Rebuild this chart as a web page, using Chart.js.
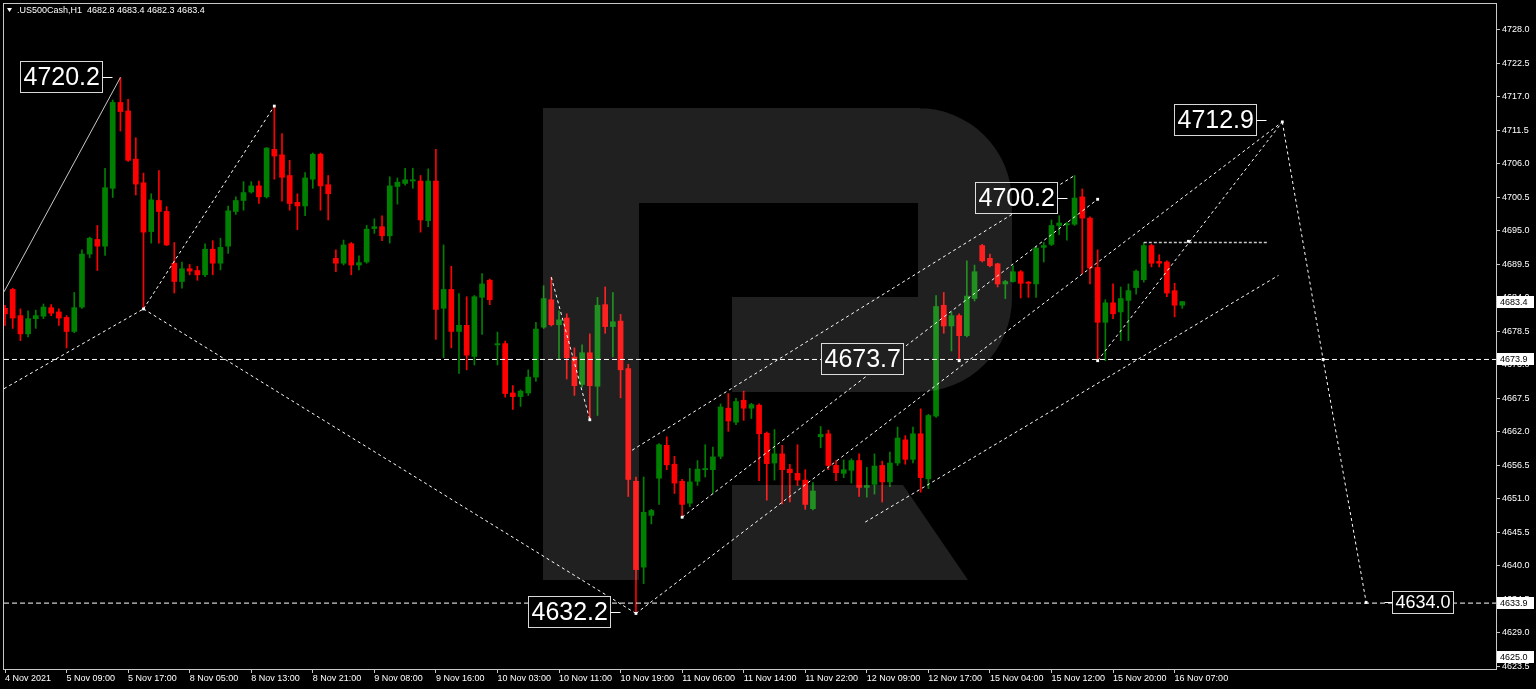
<!DOCTYPE html>
<html>
<head>
<meta charset="utf-8">
<title>.US500Cash,H1</title>
<script src="https://cdn.jsdelivr.net/npm/chart.js@4.4.1/dist/chart.umd.min.js"></script>
<style>
  html, body { margin: 0; padding: 0; background: #000; overflow: hidden; }
</style>
</head>
<body>
<canvas id="chart" width="1536" height="689"></canvas>
<script>
// Header info
const symbolName = ".US500Cash,H1";
const lastBar = ["4682.8", "4683.4", "4682.3", "4683.4"];

// H1 candles (bar 0 = 4 Nov 2021)
const opens = [
  4682.3, 4685.4, 4681.1, 4678.1, 4680.6, 4681.0, 4682.4, 4681.7, 4680.8, 4678.5,
  4682.5, 4691.2, 4693.6, 4692.5, 4702.0, 4716.1, 4714.7, 4706.8, 4702.9, 4694.9,
  4700.0, 4698.2, 4689.7, 4686.7, 4688.8, 4688.5, 4687.8, 4692.0, 4689.7, 4692.5,
  4698.2, 4700.0, 4701.4, 4702.4, 4700.6, 4708.4, 4707.5, 4704.1, 4699.7, 4699.1,
  4703.5, 4707.6, 4702.6, 4690.5, 4689.7, 4692.9, 4689.4, 4689.9, 4695.4, 4695.7,
  4694.2, 4702.3, 4702.8, 4703.2, 4703.2, 4696.7, 4703.2, 4682.3, 4685.4, 4678.5,
  4679.5, 4674.4, 4684.1, 4686.9, 4676.3, 4676.5, 4668.4, 4667.8, 4668.4, 4671.0,
  4679.2, 4683.7, 4679.6, 4680.7, 4674.3, 4669.8, 4675.0, 4669.5, 4682.9, 4679.3,
  4680.2, 4672.4, 4653.9, 4639.8, 4648.3, 4654.4, 4659.8, 4656.7, 4653.9, 4650.3,
  4653.9, 4655.8, 4655.8, 4658.0, 4665.9, 4663.6, 4667.2, 4665.9, 4666.4, 4661.8,
  4656.9, 4658.4, 4655.9, 4655.2, 4654.1, 4649.4, 4661.2, 4661.7, 4656.5, 4655.2,
  4655.7, 4657.3, 4652.9, 4653.4, 4656.5, 4653.8, 4656.9, 4660.7, 4657.5, 4661.7,
  4654.3, 4664.6, 4682.8, 4679.4, 4681.1, 4677.8, 4683.9, 4692.6, 4690.5, 4689.6,
  4686.3, 4686.7, 4688.3, 4686.6, 4686.3, 4692.3, 4692.8, 4695.9, 4696.0, 4696.1,
  4700.6, 4697.1, 4689.0, 4680.0, 4683.2, 4681.7, 4683.6, 4685.7, 4687.0, 4692.6,
  4690.0, 4689.9, 4685.2, 4682.8
];
const highs = [
  4682.8, 4685.6, 4682.2, 4681.9, 4682.0, 4683.0, 4682.9, 4682.2, 4681.1, 4684.9,
  4691.9, 4694.0, 4695.9, 4705.3, 4716.5, 4720.2, 4716.6, 4710.3, 4704.5, 4701.1,
  4704.9, 4699.0, 4693.1, 4689.9, 4689.5, 4689.2, 4692.9, 4693.4, 4693.8, 4699.1,
  4700.6, 4703.1, 4703.1, 4703.2, 4708.7, 4715.5, 4711.0, 4706.6, 4701.1, 4704.6,
  4707.8, 4707.8, 4704.1, 4691.9, 4693.5, 4693.1, 4690.9, 4695.9, 4697.0, 4697.5,
  4703.9, 4703.7, 4705.3, 4705.3, 4704.1, 4705.2, 4708.4, 4692.7, 4689.2, 4684.7,
  4684.2, 4684.4, 4688.0, 4687.1, 4678.4, 4676.9, 4669.6, 4668.9, 4672.2, 4680.0,
  4686.0, 4687.4, 4681.9, 4681.4, 4675.8, 4676.3, 4678.1, 4684.1, 4685.8, 4684.9,
  4681.3, 4673.1, 4654.6, 4654.6, 4649.3, 4660.1, 4661.2, 4658.0, 4654.2, 4656.0,
  4657.3, 4659.9, 4659.5, 4666.6, 4668.3, 4667.5, 4668.7, 4666.7, 4666.6, 4662.0,
  4662.4, 4659.8, 4656.7, 4659.9, 4655.8, 4653.7, 4662.9, 4662.3, 4657.3, 4657.4,
  4657.6, 4658.4, 4656.2, 4658.4, 4657.2, 4658.7, 4662.8, 4661.4, 4662.8, 4665.8,
  4664.9, 4684.4, 4684.9, 4681.7, 4681.4, 4690.1, 4689.4, 4692.8, 4691.2, 4689.7,
  4686.9, 4689.3, 4688.5, 4686.7, 4692.4, 4693.1, 4696.8, 4697.5, 4696.4, 4704.1,
  4701.9, 4697.3, 4691.9, 4683.7, 4686.3, 4685.8, 4686.3, 4688.6, 4693.1, 4692.8,
  4691.1, 4690.1, 4686.4, 4683.4
];
const lows = [
  4679.5, 4679.0, 4677.0, 4677.6, 4679.0, 4680.6, 4681.1, 4679.5, 4675.8, 4678.3,
  4682.3, 4690.6, 4688.5, 4691.0, 4700.5, 4711.4, 4706.4, 4700.9, 4682.2, 4693.0,
  4693.0, 4692.6, 4684.8, 4685.6, 4687.8, 4686.9, 4687.5, 4687.8, 4688.6, 4691.3,
  4697.7, 4698.4, 4701.2, 4699.5, 4700.4, 4703.5, 4699.9, 4698.4, 4695.2, 4697.5,
  4702.0, 4698.4, 4696.8, 4688.3, 4689.4, 4687.8, 4688.6, 4689.7, 4694.6, 4693.4,
  4693.0, 4699.4, 4702.5, 4702.0, 4694.8, 4695.7, 4677.2, 4674.2, 4675.8, 4671.6,
  4672.2, 4673.0, 4678.0, 4682.9, 4673.0, 4667.7, 4665.7, 4666.2, 4668.0, 4670.3,
  4679.0, 4679.4, 4674.0, 4670.7, 4668.0, 4669.4, 4664.0, 4664.7, 4678.2, 4674.3,
  4667.6, 4651.4, 4632.2, 4637.1, 4646.9, 4650.1, 4655.8, 4651.9, 4648.0, 4649.7,
  4653.2, 4654.6, 4651.9, 4657.6, 4662.1, 4663.2, 4663.9, 4664.2, 4654.0, 4650.8,
  4654.1, 4650.2, 4650.5, 4653.2, 4649.3, 4649.2, 4659.4, 4655.8, 4654.0, 4654.5,
  4653.6, 4651.4, 4651.3, 4651.8, 4650.5, 4653.0, 4656.5, 4656.7, 4656.9, 4652.1,
  4652.7, 4664.4, 4678.2, 4675.3, 4673.7, 4677.6, 4683.5, 4689.9, 4689.1, 4685.8,
  4683.9, 4686.6, 4684.0, 4684.1, 4684.1, 4689.9, 4692.6, 4694.4, 4693.5, 4695.9,
  4688.0, 4686.3, 4673.7, 4673.7, 4680.6, 4677.0, 4677.0, 4684.6, 4686.6, 4689.1,
  4689.1, 4684.2, 4680.9, 4682.3
];
const closes = [
  4681.4, 4680.7, 4678.1, 4680.6, 4681.1, 4682.5, 4681.5, 4680.7, 4678.5, 4682.4,
  4691.2, 4693.8, 4692.5, 4702.1, 4716.1, 4714.6, 4706.6, 4702.7, 4694.8, 4700.1,
  4698.2, 4692.7, 4686.7, 4688.8, 4688.4, 4687.8, 4692.0, 4689.7, 4692.3, 4698.3,
  4700.0, 4701.3, 4702.4, 4700.6, 4708.6, 4707.3, 4703.8, 4699.5, 4699.1, 4703.7,
  4707.6, 4702.4, 4701.1, 4689.7, 4692.7, 4689.4, 4689.8, 4695.3, 4695.7, 4694.2,
  4702.4, 4703.0, 4703.4, 4703.4, 4696.8, 4703.2, 4682.1, 4685.4, 4678.5, 4679.5,
  4674.6, 4684.2, 4686.3, 4683.7, 4676.5, 4668.3, 4667.8, 4668.7, 4671.0, 4678.9,
  4683.9, 4679.6, 4680.4, 4674.2, 4669.6, 4675.0, 4669.6, 4682.8, 4679.3, 4680.1,
  4672.2, 4654.2, 4639.4, 4648.8, 4649.1, 4659.9, 4656.6, 4653.6, 4650.1, 4653.8,
  4655.9, 4656.0, 4657.9, 4666.1, 4663.8, 4667.0, 4665.9, 4666.5, 4661.7, 4656.8,
  4658.4, 4655.8, 4655.3, 4654.1, 4650.1, 4652.3, 4661.6, 4656.5, 4655.3, 4655.8,
  4657.3, 4652.9, 4653.2, 4656.4, 4653.8, 4656.9, 4661.0, 4657.5, 4661.7, 4654.5,
  4664.7, 4682.6, 4679.4, 4681.1, 4677.8, 4684.3, 4688.3, 4690.1, 4689.3, 4686.3,
  4686.7, 4688.3, 4686.4, 4686.4, 4692.2, 4692.6, 4695.9, 4696.3, 4696.2, 4700.4,
  4697.1, 4688.9, 4680.0, 4683.2, 4681.4, 4683.9, 4685.2, 4688.4, 4692.6, 4689.7,
  4689.7, 4684.8, 4682.8, 4683.4
];

// Axis ticks
const xTickIndex = [0, 8, 16, 24, 32, 40, 48, 56, 64, 72, 80, 88, 96, 104, 112, 120, 128, 136, 144, 152];
const xTickLabels = [
  "4 Nov 2021", "5 Nov 09:00", "5 Nov 17:00", "8 Nov 05:00", "8 Nov 13:00",
  "8 Nov 21:00", "9 Nov 08:00", "9 Nov 16:00", "10 Nov 03:00", "10 Nov 11:00",
  "10 Nov 19:00", "11 Nov 06:00", "11 Nov 14:00", "11 Nov 22:00", "12 Nov 09:00",
  "12 Nov 17:00", "15 Nov 04:00", "15 Nov 12:00", "15 Nov 20:00", "16 Nov 07:00"
];
const yTickValues = [
  4728.0, 4722.5, 4717.0, 4711.5, 4706.0, 4700.5, 4695.0, 4689.5, 4684.0, 4678.5,
  4673.0, 4667.5, 4662.0, 4656.5, 4651.0, 4645.5, 4640.0, 4634.5, 4629.0, 4623.5
];
const axisPriceMarks = [4683.4, 4673.9, 4633.9, 4625.0];

// Visible range (bar index / price)
const xMin = -0.13, xMax = 193.77;
const yMin = 4623.08, yMax = 4732.26;

// Analyst drawings: [bar index, price]
const solidWave = [[xMin, 4685.0], [15, 4720.2]];
const dottedWaves = [
  [[xMin, 4669.1], [18, 4682.2]],
  [[18, 4682.2], [35, 4715.5]],
  [[18, 4682.2], [82, 4632.2]],
  [[71, 4687.4], [76, 4664.0]],
  [[82, 4632.2], [166, 4712.9]],
  [[81.5, 4659.0], [139, 4704.1]],
  [[88, 4648.0], [142, 4700.2]],
  [[111.8, 4647.2], [165.5, 4687.7]],
  [[142, 4673.7], [166, 4712.9]],
  [[166, 4712.9], [171.3, 4673.9], [176.9, 4634.0]]
];
const levelPrices = [4673.9, 4633.9];
const shortLevel = [[148, 4693.1], [164, 4693.1]];
const markerPoints = [
  [18, 4682.2], [35, 4715.5], [76, 4664.0], [82, 4632.2], [88, 4648.0],
  [124, 4673.7], [142, 4700.2], [142, 4673.7], [153.8, 4693.3],
  [166, 4712.9], [171.3, 4673.9], [176.9, 4634.0]
];
// callout boxes: text, left bar index, centre price, tail side
const callouts = [
  { text: "4720.2", at: [1.99, 4720.25], tail: "right", size: 25 },
  { text: "4632.2", at: [67.96, 4632.4], tail: "right", size: 25 },
  { text: "4673.7", at: [106.1, 4673.98], tail: "right", size: 25 },
  { text: "4700.2", at: [126.0, 4700.38], tail: "right", size: 25 },
  { text: "4712.9", at: [151.9, 4713.16], tail: "right", size: 25 },
  { text: "4634.0", at: [180.2, 4634.1], tail: "left", size: 18 }
];

const BULL = "#008000";
const BEAR = "#ff0000";
const FONT = '"Liberation Sans", Arial, sans-serif';

const idx = opens.map((_, i) => i);
const candleColor = (ctx) => (closes[ctx.dataIndex] >= opens[ctx.dataIndex] ? BULL : BEAR);
const toPts = (arr) => arr.map(([x, y]) => ({ x, y }));

const datasets = [
  {
    type: "bar",
    label: "body",
    data: idx.map((i) => ({ x: i, y: [opens[i], closes[i]] })),
    backgroundColor: candleColor,
    barThickness: 5,
    minBarLength: 1,
    grouped: false,
    borderWidth: 0,
    order: 2,
  },
  {
    type: "bar",
    label: "wick",
    data: idx.map((i) => ({ x: i, y: [lows[i], highs[i]] })),
    backgroundColor: candleColor,
    barThickness: 1,
    grouped: false,
    borderWidth: 0,
    order: 3,
  },
  {
    type: "line",
    data: toPts(solidWave),
    borderColor: "#c8c8c8",
    borderWidth: 1,
    pointRadius: 0,
    order: 1,
  },
];

dottedWaves.forEach((w) => {
  datasets.push({
    type: "line",
    data: toPts(w),
    borderColor: "#ffffff",
    borderWidth: 1,
    borderDash: [3, 3],
    pointRadius: 0,
    order: 1,
  });
});

levelPrices.forEach((p) => {
  datasets.push({
    type: "line",
    data: [{ x: xMin, y: p }, { x: xMax, y: p }],
    borderColor: "#ffffff",
    borderWidth: 1,
    borderDash: [5, 3],
    pointRadius: 0,
    order: 1,
  });
});

datasets.push({
  type: "line",
  data: toPts(shortLevel),
  borderColor: "#c8c8c8",
  borderWidth: 1.5,
  borderDash: [3, 2],
  pointRadius: 0,
  order: 1,
});

datasets.push({
  type: "line",
  data: toPts(markerPoints),
  showLine: false,
  pointStyle: "rect",
  pointRadius: 2,
  pointBackgroundColor: "#ffffff",
  pointBorderWidth: 0,
  order: 0,
});

// Watermark "R" drawn over the plot area
function drawWatermark(ctx) {
  ctx.beginPath();
  ctx.rect(543, 108, 96, 472);
  ctx.rect(600, 108, 320, 95);
  ctx.moveTo(918, 108);
  ctx.arcTo(1012, 108, 1012, 392, 94);
  ctx.arcTo(1012, 392, 918, 392, 94);
  ctx.closePath();
  ctx.rect(732, 297, 190, 95);
  ctx.moveTo(732, 485);
  ctx.lineTo(903, 485);
  ctx.lineTo(968, 580);
  ctx.lineTo(732, 580);
  ctx.closePath();
  ctx.fillStyle = "rgba(255,255,255,0.125)";
  ctx.fill("nonzero");
}

function drawCallout(ctx, c, xs, ys) {
  ctx.font = c.size + "px " + FONT;
  const w = Math.round(ctx.measureText(c.text).width) + 6;
  const h = Math.round(c.size * 1.22);
  const left = Math.round(xs.getPixelForValue(c.at[0])) + 0.5;
  const cy = Math.round(ys.getPixelForValue(c.at[1]));
  const top = cy - Math.round(h / 2) + 0.5;
  ctx.fillStyle = "#000";
  ctx.fillRect(left, top, w, h);
  ctx.strokeStyle = "#d8d8d8";
  ctx.lineWidth = 1;
  ctx.strokeRect(left, top, w, h);
  ctx.fillStyle = "#ffffff";
  ctx.textAlign = "left";
  ctx.textBaseline = "middle";
  ctx.fillText(c.text, left + 3, cy + 1);
  ctx.beginPath();
  if (c.tail === "right") {
    ctx.moveTo(left + w, cy + 0.5);
    ctx.lineTo(left + w + 10, cy + 0.5);
  } else {
    ctx.moveTo(left - 8, cy + 0.5);
    ctx.lineTo(left, cy + 0.5);
  }
  ctx.strokeStyle = "#ffffff";
  ctx.stroke();
}

const overlay = {
  id: "overlay",
  afterDatasetsDraw(chart) {
    const { ctx, scales } = chart;
    ctx.save();
    callouts.forEach((c) => drawCallout(ctx, c, scales.x, scales.y));
    drawWatermark(ctx);
    ctx.restore();
  },
  afterDraw(chart) {
    const { ctx, chartArea: a, scales } = chart;
    ctx.save();
    // frame
    ctx.strokeStyle = "#c8c8c8";
    ctx.lineWidth = 1;
    ctx.strokeRect(a.left - 0.5, a.top - 0.5, a.right - a.left + 1, a.bottom - a.top + 1);
    // price boxes on the axis
    ctx.font = "9px " + FONT;
    ctx.textAlign = "left";
    ctx.textBaseline = "middle";
    axisPriceMarks.forEach((p) => {
      const cy = Math.round(scales.y.getPixelForValue(p));
      ctx.fillStyle = "#ffffff";
      ctx.fillRect(a.right + 1, cy - 6, 37, 12);
      ctx.fillStyle = "#000000";
      ctx.fillText(p.toFixed(1), a.right + 4, cy + 0.5);
    });
    // header
    ctx.fillStyle = "#ffffff";
    ctx.beginPath();
    ctx.moveTo(7, 8);
    ctx.lineTo(12, 8);
    ctx.lineTo(9.5, 12);
    ctx.closePath();
    ctx.fill();
    ctx.fillText(symbolName + "  " + lastBar.join(" "), 17, 11);
    ctx.restore();
  },
};

// no extra label padding, so the plot frame sits at the window edges
const noPad = (s) => {
  s.paddingTop = 0;
  s.paddingBottom = 0;
  s.paddingLeft = 0;
  s.paddingRight = 0;
};

new Chart(document.getElementById("chart"), {
  type: "bar",
  data: { datasets },
  options: {
    responsive: false,
    devicePixelRatio: 1,
    animation: false,
    events: [],
    layout: { padding: { left: 3, top: 3, right: 0, bottom: 0 } },
    plugins: { legend: { display: false }, tooltip: { enabled: false } },
    scales: {
      x: {
        type: "linear",
        min: xMin,
        max: xMax,
        offset: false,
        border: { display: false },
        grid: { offset: false, drawOnChartArea: false, color: "#c8c8c8", tickLength: 4 },
        ticks: {
          color: "#ffffff",
          font: { family: FONT, size: 9 },
          align: "start",
          autoSkip: false,
          maxRotation: 0,
          minRotation: 0,
          padding: 0,
          callback: (v, i) => xTickLabels[i],
        },
        afterBuildTicks: (s) => {
          s.ticks = xTickIndex.map((v) => ({ value: v }));
        },
        afterFit: (s) => {
          s.height = 20;
          noPad(s);
        },
      },
      y: {
        position: "right",
        min: yMin,
        max: yMax,
        border: { display: false },
        grid: { drawOnChartArea: false, color: "#c8c8c8", tickLength: 4 },
        ticks: {
          color: "#ffffff",
          font: { family: FONT, size: 9 },
          padding: 2,
          callback: (v) => Number(v).toFixed(1),
        },
        afterBuildTicks: (s) => {
          s.ticks = yTickValues.map((v) => ({ value: v }));
        },
        afterFit: (s) => {
          s.width = 40;
          noPad(s);
        },
      },
    },
  },
  plugins: [overlay],
});
</script>
</body>
</html>
